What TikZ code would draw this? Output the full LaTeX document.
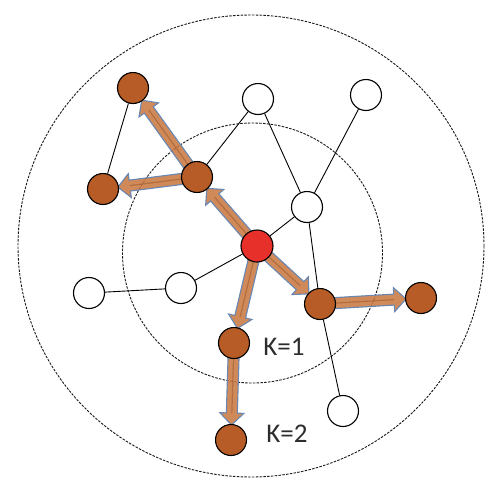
\documentclass[tikz,border=0pt]{standalone}
\usepackage{fontspec}
\setmainfont{Carlito}
\usetikzlibrary{calc,backgrounds}
\definecolor{nodebrown}{RGB}{183,92,38}
\definecolor{nodered}{RGB}{232,48,42}
\definecolor{arrowfill}{RGB}{200,118,60}
\definecolor{arrowedge}{RGB}{105,135,178}
\definecolor{stripecol}{RGB}{150,80,40}
\definecolor{labelgray}{RGB}{45,45,45}
\tikzset{
  vbase/.style={circle,draw=black,line width=1.1pt,minimum size=31pt,inner sep=0pt},
  vwhite/.style={vbase,fill=white},
  vbrown/.style={vbase,fill=nodebrown},
  vred/.style={vbase,fill=nodered,minimum size=32pt},
  edge/.style={draw=black,line width=0.9pt},
  ring/.style={draw=black!90,line width=0.9pt,dash pattern=on 2.5pt off 1.3pt},
  barrowsty/.style={fill=arrowfill,fill opacity=0.85,draw=arrowedge,line width=1.1pt,line join=miter},
  stripe/.style={draw=stripecol,line width=1.2pt,opacity=0.5},
  klabel/.style={font=\fontsize{27}{27}\selectfont,text=labelgray,inner sep=0pt}
}
\newcommand\blockarrow[2]{%
  \coordinate (bs) at ($(#1)!15pt!(#2)$);
  \coordinate (be) at ($(#2)!15pt!(#1)$);
  \coordinate (bh) at ($(be)!12pt!(bs)$);
  \path[barrowsty] ($(bs)!5.5pt!90:(be)$) -- ($(bh)!5.5pt!-90:(bs)$) -- ($(bh)!12pt!-90:(bs)$) -- (be)
     -- ($(bh)!12pt!90:(bs)$) -- ($(bh)!5.5pt!90:(bs)$) -- ($(bs)!5.5pt!-90:(be)$) -- cycle;
  \draw[stripe] (bs) -- (bh);
}
\begin{document}
\begin{tikzpicture}[x=1pt,y=-1pt]
\useasboundingbox (0,0) rectangle (496,488);
% nodes
\node[vbrown] (tl) at (133,88) {};
\node[vbrown] (lb) at (103,189) {};
\node[vbrown] (mb) at (197,177) {};
\node[vwhite] (wt) at (258,99) {};
\node[vwhite] (wtr) at (366,95) {};
\node[vwhite] (wmr) at (307,207) {};
\node[vred] (c) at (257,246) {};
\node[vwhite] (wl) at (89,293) {};
\node[vwhite] (wl2) at (181,288) {};
\node[vbrown] (rc) at (320,304) {};
\node[vbrown] (r) at (421,298) {};
\node[vbrown] (k1) at (234,343) {};
\node[vbrown] (k2) at (231,440) {};
\node[vwhite] (wb) at (343,411) {};
\node[klabel] (l1) at (284,347) {K=1};
\node[klabel] (l2) at (287,434) {K=2};
\begin{scope}[on background layer]
  \coordinate (oc) at (251,246);
  \coordinate (ic) at (252.5,253);
  \draw[ring] (oc) ellipse [x radius=233, y radius=231];
  \draw[ring] (ic) circle [radius=130];
  \draw[edge] (tl) -- (lb);
  \draw[edge] (mb) -- (wt);
  \draw[edge] (wt) -- (wmr);
  \draw[edge] (wtr) -- (wmr);
  \draw[edge] (c) -- (wmr);
  \draw[edge] (wmr) -- (rc);
  \draw[edge] (rc) -- (wb);
  \draw[edge] (c) -- (wl2);
  \draw[edge] (wl2) -- (wl);
  \blockarrow{c}{mb}
  \blockarrow{mb}{tl}
  \blockarrow{mb}{lb}
  \blockarrow{c}{rc}
  \blockarrow{c}{k1}
  \blockarrow{k1}{k2}
  \blockarrow{rc}{r}
\end{scope}
\end{tikzpicture}
\end{document}
